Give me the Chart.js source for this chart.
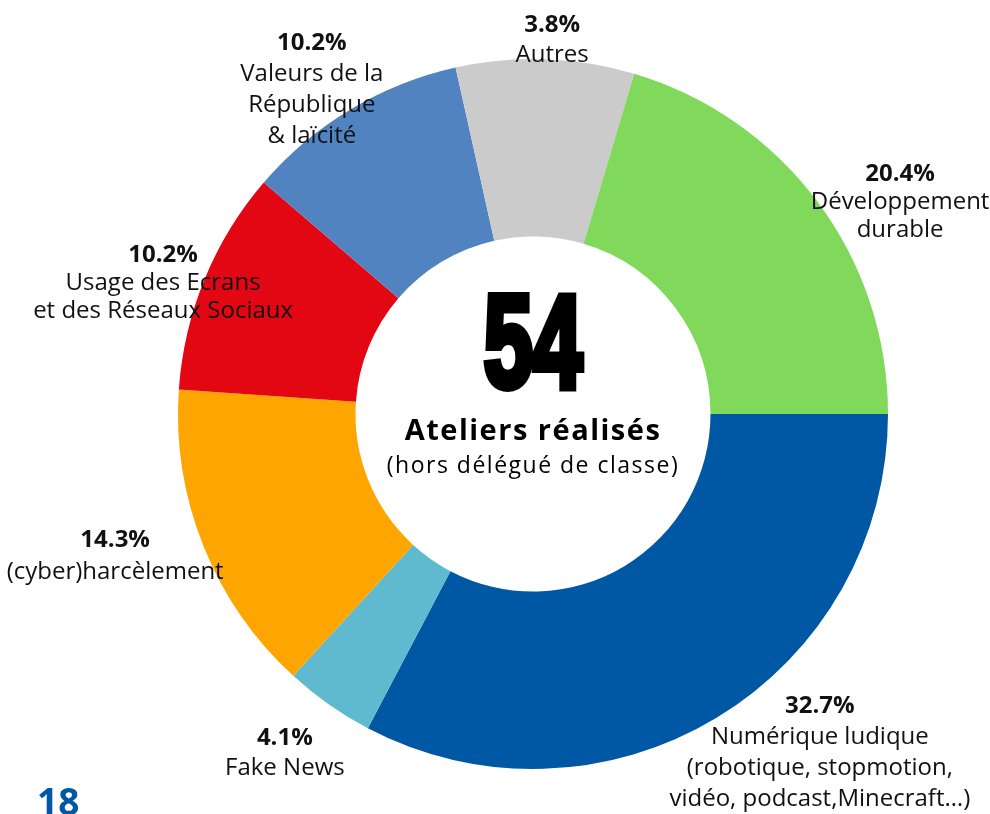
<!DOCTYPE html>
<html lang="fr">
<head>
<meta charset="utf-8">
<title>Ateliers réalisés</title>
<script src="https://cdn.jsdelivr.net/npm/chart.js@4"></script>
<style>
  html, body { margin: 0; padding: 0; background: #fff; }
  #wrap { position: relative; width: 990px; height: 814px; overflow: hidden; }
  #page { position: absolute; left: 37px; top: 782px; font: bold 37px "Open Sans", sans-serif; color: #0057a3; line-height: 1; }
</style>
</head>
<body>
<div id="wrap">
  <canvas id="chart" width="990" height="814"></canvas>
  <div id="page">18</div>
</div>
<script>
// slices, clockwise from 3 o'clock
const categories = [
  ["Numérique ludique", "(robotique, stopmotion,", "vidéo, podcast,Minecraft…)"],
  ["Fake News"],
  ["(cyber)harcèlement"],
  ["Usage des Ecrans", "et des Réseaux Sociaux"],
  ["Valeurs de la", "République", "& laïcité"],
  ["Autres"],
  ["Développement", "durable"]
]
// slice sizes as drawn (Autres slice is drawn larger than its printed value)
const shares = [32.7, 4.1, 14.3, 10.2, 10.2, 8.1, 20.4]
// percentages as printed on the labels
const printedPercents = [32.7, 4.1, 14.3, 10.2, 10.2, 3.8, 20.4]
const colors = ["#0057a3", "#5fbacf", "#ffa500", "#e30613", "#5283c1", "#cbcbcb", "#80d95b"]

const totalWorkshops = "54"
const centerTitle = "Ateliers réalisés"
const centerSub = "(hors délégué de classe)"

// label anchor (first line), in units of the outer radius from the centre
const labelAnchors = [
  [0.808, 0.823], [-0.699, 0.913], [-1.177, 0.355], [-1.042, -0.448],
  [-0.623, -1.045], [0.054, -1.096], [1.034, -0.676]
]
const lineSteps = [31, 30, 32, 28, 31, 30, 28]

const sliceLabels = {
  id: "sliceLabels",
  afterDatasetsDraw(chart) {
    const {ctx} = chart
    const arc = chart.getDatasetMeta(0).data[0]
    const cx = arc.x, cy = arc.y, r = arc.outerRadius
    ctx.save()
    ctx.fillStyle = "#111"
    ctx.textAlign = "center"
    ctx.textBaseline = "middle"
    categories.forEach((lines, i) => {
      const x = cx + labelAnchors[i][0] * r
      let y = cy + labelAnchors[i][1] * r
      ctx.font = "bold 24px 'Open Sans'"
      ctx.fillText(printedPercents[i].toFixed(1) + "%", x, y)
      ctx.font = "24px 'Open Sans'"
      lines.forEach(line => {
        y += lineSteps[i]
        ctx.fillText(line, x, y)
      })
    })
    ctx.restore()
  }
}

const centerText = {
  id: "centerText",
  afterDraw(chart) {
    const {ctx} = chart
    const arc = chart.getDatasetMeta(0).data[0]
    const cx = arc.x, cy = arc.y
    ctx.save()
    ctx.fillStyle = "#000"
    ctx.strokeStyle = "#000"
    ctx.textAlign = "center"
    ctx.textBaseline = "alphabetic"

    // big condensed number
    ctx.save()
    ctx.translate(cx, cy - 27)
    ctx.scale(0.67, 1)
    ctx.font = "bold 132px 'Liberation Sans'"
    ctx.lineWidth = 8
    ctx.lineJoin = "miter"
    ctx.miterLimit = 1.5
    ctx.fillText(totalWorkshops, 0, 0)
    ctx.strokeText(totalWorkshops, 0, 0)
    ctx.restore()

    ctx.textBaseline = "middle"
    ctx.font = "bold 29px 'Open Sans'"
    ctx.letterSpacing = "1.5px"
    ctx.fillText(centerTitle, cx, cy + 18)
    ctx.font = "23px 'Open Sans'"
    ctx.letterSpacing = "1.5px"
    ctx.fillText(centerSub, cx, cy + 52)
    ctx.restore()
  }
}

new Chart(document.getElementById("chart"), {
  type: "doughnut",
  data: {
    labels: categories.map(l => l.join(" ")),
    datasets: [{
      data: shares,
      backgroundColor: colors,
      borderWidth: 0
    }]
  },
  options: {
    responsive: false,
    animation: false,
    cutout: "50%",
    rotation: 90,
    layout: {padding: {left: 178, right: 102, top: 59, bottom: 45}},
    plugins: {
      legend: {display: false},
      tooltip: {enabled: false}
    }
  },
  plugins: [sliceLabels, centerText]
})
</script>
</body>
</html>
